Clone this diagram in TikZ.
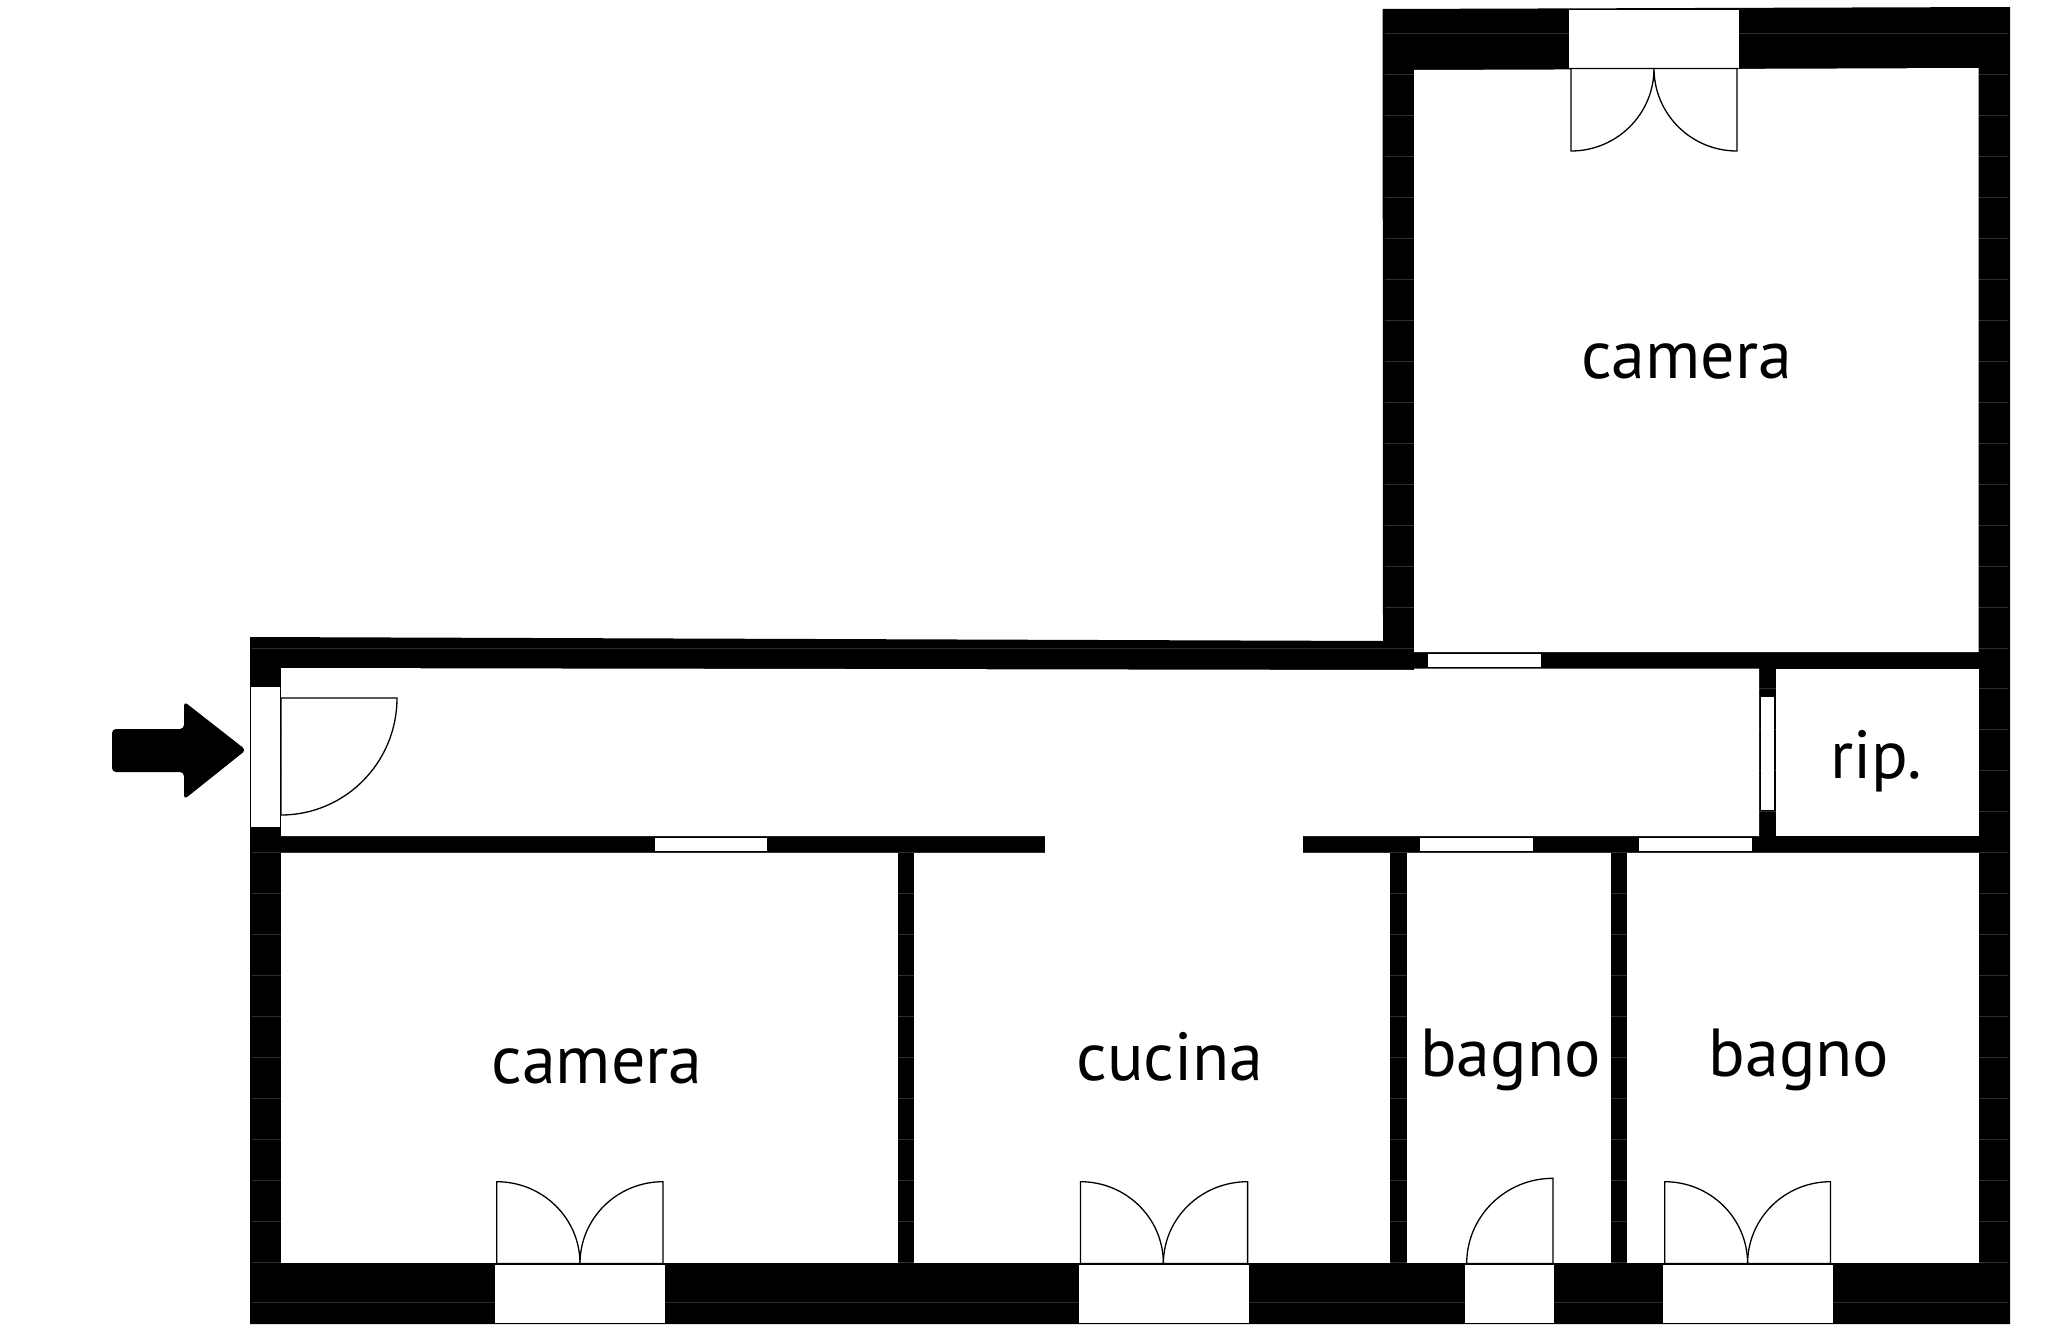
\documentclass[tikz,border=0pt]{standalone}
\usepackage{fontspec}
\setmainfont{PT Sans}
\newcommand{\doorleaf}[4]{% cx cy ex ey
  \pgfmathsetmacro{\kax}{#1+0.5523*(#3-#1)}
  \draw[doorline] (#1,#2) -- (#1,#4) .. controls (\kax,#4) and (#3,{#2+0.5523*(#4-#2)}) .. (#3,#2) -- cycle;
}
\tikzset{
  wallfill/.style={fill=black,draw=none},
  roomfill/.style={fill=white,draw=none},
  winfill/.style={fill=white,draw=none},
  seam/.style={draw=black!82,line width=0.8pt},
  doorline/.style={draw=black,fill=white,line width=1.3pt,line join=miter},
  roomlabel/.style={font=\fontsize{68}{68}\selectfont,anchor=base,inner sep=0pt,text=black},
}
\begin{document}
\begin{tikzpicture}[x=1pt,y=-1pt]
\useasboundingbox (0,0) rectangle (2048,1340);
\fill[white] (0,0) rectangle (2048,1340);
% outer mass
\fill[wallfill] (250,637) -- (1383,641) -- (1382.6,9) -- (2010,7) -- (2010,1324) -- (250,1324) -- cycle;
% faint seams in the walls
\begin{scope}
\clip (252,637) -- (1385,641) -- (1385,9) -- (2008,7) -- (2008,1324) -- (252,1324) -- cycle;
\foreach \yy in {33,74,115,156,197,238,279,320,361,402,443,484,525,566,607,648,688,729,770,811,852,893,934,975,1016,1057,1098,1139,1180,1221,1262,1302}
  \draw[seam] (250,\yy) -- (2010,\yy);
\end{scope}
% rooms
\fill[roomfill] (1414,70) -- (1978.6,68) -- (1978.6,652) -- (1414,652) -- cycle;
\fill[roomfill] (281,668) -- (1414,670) -- (1414,668.7) -- (1759,668.7) -- (1759,836) -- (281,836) -- cycle;
\fill[roomfill] (1776,668.7) rectangle (1978.6,836);
\fill[roomfill] (1045.4,835) rectangle (1303,854);
\fill[roomfill] (281,852.7) rectangle (897.6,1263.3);
\fill[roomfill] (914,852.7) rectangle (1390,1263.3);
\fill[roomfill] (1407,852.7) rectangle (1610.5,1263.3);
\fill[roomfill] (1627,852.7) rectangle (1978.6,1263.3);
% windows
\fill[winfill] (1569,10.5) rectangle (1739,67.7);
\fill[winfill] (1428,653.7) rectangle (1541,667);
\fill[winfill] (1760.5,696.7) rectangle (1774,810);
\fill[winfill] (251,687) rectangle (280,827);
\fill[winfill] (654.6,838) rectangle (767,851.3);
\fill[winfill] (1420,837.7) rectangle (1533,851);
\fill[winfill] (1639,837.7) rectangle (1752,851);
\fill[winfill] (495,1265) rectangle (665,1322.7);
\fill[winfill] (1079,1265) rectangle (1249,1322.7);
\fill[winfill] (1465,1265) rectangle (1554,1322.7);
\fill[winfill] (1662.8,1265) rectangle (1833,1322.7);
% doors
\doorleaf{281}{698}{397}{815}
\doorleaf{1571}{68.5}{1654}{151}
\doorleaf{1737}{68.5}{1654}{151}
\doorleaf{496.7}{1263.5}{580}{1181.7}
\doorleaf{663}{1263.5}{580}{1181.7}
\doorleaf{1080.5}{1263.5}{1163.4}{1181.7}
\doorleaf{1247.6}{1263.5}{1163.4}{1181.7}
\doorleaf{1553}{1263.5}{1466.7}{1178.3}
\doorleaf{1664.7}{1263.5}{1747.6}{1181.7}
\doorleaf{1830.5}{1263.5}{1747.6}{1181.7}
% entrance arrow
\fill[black,rounded corners=4pt] (112,729) -- (184,729) -- (184,701.5) -- (246,750) -- (184,799.5) -- (184,772) -- (112,772) -- cycle;
% labels
\node[roomlabel] (cameraA) at (1686.5,378) {camera};
\node[roomlabel] (cameraB) at (597,1083) {camera};
\node[roomlabel] (cucina) at (1170,1080) {cucina};
\node[roomlabel] (bagnoA) at (1510.5,1076) {bagno};
\node[roomlabel] (bagnoB) at (1799,1076) {bagno};
\node[roomlabel] (rip) at (1876.5,778) {rip.};
\end{tikzpicture}
\end{document}
